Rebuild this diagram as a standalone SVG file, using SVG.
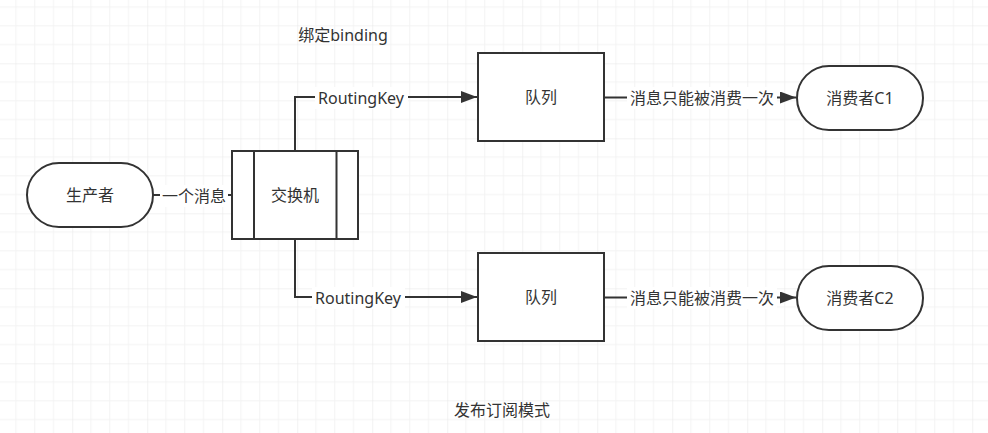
<svg xmlns="http://www.w3.org/2000/svg" width="988" height="433" viewBox="0 0 988 433">
<style>
.n{fill:#fff;stroke:#333;stroke-width:2}
.t{font-family:"Noto Sans","Noto Sans CJK SC",sans-serif;font-size:16px;fill:#333;text-anchor:middle;dominant-baseline:central}
.c{fill:none;stroke:#333;stroke-width:2}
.lb{fill:#fff}
</style>
<defs>
<pattern id="g" x="-2.75" y="-11.7" width="75" height="75" patternUnits="userSpaceOnUse">
<path d="M18.75 0V75M37.5 0V75M56.25 0V75M0 18.75H75M0 37.5H75M0 56.25H75" stroke="#f3f3f3" stroke-width="1" fill="none"/>
<path d="M0 0V75M0 0H75" stroke="#e6e6e6" stroke-width="1" fill="none"/>
</pattern>
<marker id="a" viewBox="0 0 16 12" refX="16" refY="6" markerWidth="16" markerHeight="12" markerUnits="userSpaceOnUse" orient="auto">
<path d="M0 0L16 6L0 12Z" fill="#333"/>
</marker>
</defs>
<rect width="988" height="433" fill="#fff"/>
<rect width="988" height="433" fill="url(#g)"/>
<g id="connectors">
<path class="c" d="M153 195H231" marker-end="url(#a)"/>
<rect class="lb" x="160" y="185" width="68" height="22"/>
<text class="t" x="194" y="196">一个消息</text>
<path class="c" d="M295 151V97H477" marker-end="url(#a)"/>
<rect class="lb" x="315" y="87" width="93" height="22"/>
<text class="t" x="361" y="98">RoutingKey</text>
<path class="c" d="M295 239V297H477" marker-end="url(#a)"/>
<rect class="lb" x="312" y="287" width="93" height="22"/>
<text class="t" x="358" y="298">RoutingKey</text>
<path class="c" d="M604 97.5H796" marker-end="url(#a)"/>
<rect class="lb" x="627" y="87" width="150" height="22"/>
<text class="t" x="702" y="98">消息只能被消费一次</text>
<path class="c" d="M604 297.5H796" marker-end="url(#a)"/>
<rect class="lb" x="627" y="287" width="150" height="22"/>
<text class="t" x="702" y="298">消息只能被消费一次</text>
</g>
<g id="producer">
<rect class="n" x="27" y="163" width="126" height="64" rx="32"/>
<text class="t" x="90" y="195">生产者</text>
</g>
<g id="exchange">
<rect class="n" x="232" y="151" width="126" height="88"/>
<path class="c" d="M254 151V239M336.5 151V239"/>
<text class="t" x="295" y="195">交换机</text>
</g>
<g id="queue1">
<rect class="n" x="478" y="53" width="126" height="88"/>
<text class="t" x="541" y="97">队列</text>
</g>
<g id="queue2">
<rect class="n" x="478" y="253" width="126" height="88"/>
<text class="t" x="541" y="297">队列</text>
</g>
<g id="consumer1">
<rect class="n" x="797" y="66" width="126" height="64" rx="32"/>
<text class="t" x="860" y="98">消费者C1</text>
</g>
<g id="consumer2">
<rect class="n" x="797" y="266" width="126" height="64" rx="32"/>
<text class="t" x="860" y="298">消费者C2</text>
</g>
<g id="title1">
<text class="t" x="343" y="35">绑定binding</text>
</g>
<g id="title2">
<text class="t" x="502" y="410">发布订阅模式</text>
</g>
</svg>
